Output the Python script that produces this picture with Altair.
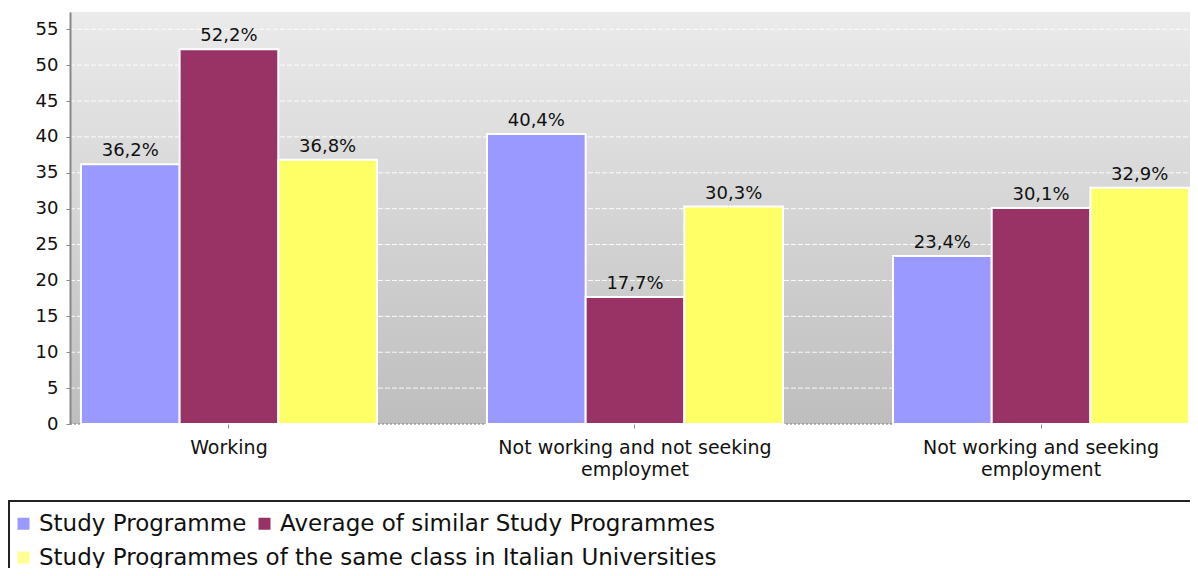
import altair as alt
import pandas as pd

categories = ["Working", "Not working and not seeking\nemploymet", "Not working and seeking\nemployment"]
series = ["Study Programme", "Average of similar Study Programmes",
          "Study Programmes of the same class in Italian Universities"]
study_programme = [36.2, 40.4, 23.4]
average_similar = [52.2, 17.7, 30.1]
same_class_italy = [36.8, 30.3, 32.9]
colors = ["#9999ff", "#993366", "#ffff66"]
y_ticks = [0, 5, 10, 15, 20, 25, 30, 35, 40, 45, 50, 55]

rows = []
for s, vals in zip(series, [study_programme, average_similar, same_class_italy]):
    for c, v in zip(categories, vals):
        rows.append({"category": c, "series": s, "value": v})
df = pd.DataFrame(rows)
grid_df = pd.DataFrame({"tick": y_ticks})

VW = 1120      # visible plot width (page ends here, minus body margin)
RW = 1128      # width of the x range as in the reference (runs off the page edge)
H = 412
FONT = "DejaVu Sans"
YMAX = 57.4

yscale = alt.Scale(domain=[0, YMAX], nice=False, zero=True)
yaxis = alt.Axis(title=None, values=y_ticks, grid=False, labelFont=FONT, labelFontSize=18,
                 labelColor="#111111", labelPadding=8, tickColor="#888888", tickSize=4,
                 domainColor="#888888", domainWidth=2, zindex=1)

bg = alt.Chart(alt.Data(values=[{}])).mark_rect(
    color=alt.Gradient(
        gradient="linear", x1=0, y1=0, x2=0, y2=1,
        stops=[alt.GradientStop(color="#ebebeb", offset=0),
               alt.GradientStop(color="#bebebe", offset=1)])
).encode(x=alt.value(0), x2=alt.value(RW), y=alt.value(0), y2=alt.value(H))

grid = alt.Chart(grid_df).transform_filter("datum.tick > 0").mark_rule(
    color="white", strokeWidth=1, strokeDash=[5, 2], opacity=0.9
).encode(y=alt.Y("tick:Q", scale=yscale, axis=yaxis), x=alt.value(0), x2=alt.value(RW))

baseline = alt.Chart(grid_df).transform_filter("datum.tick == 0").mark_rule(
    color="#777777", strokeWidth=1, strokeDash=[2, 2]
).encode(y=alt.Y("tick:Q", scale=yscale, axis=yaxis), x=alt.value(0), x2=alt.value(RW))

xaxis = alt.Axis(title=None, labelExpr="split(datum.label, '\\n')", labelLimit=600,
                 labelAngle=0, labelFont=FONT, labelFontSize=19, labelColor="#111111",
                 labelLineHeight=22, labelPadding=10, tickColor="#888888", tickSize=4,
                 domain=False, zindex=1)
xscale = alt.Scale(paddingInner=0.271, paddingOuter=0.0245, align=0.55, range=[0, RW])
xoff = alt.XOffset("series:N", sort=series, scale=alt.Scale(paddingInner=0, paddingOuter=0))

legend_common = dict(orient="none", direction="horizontal", title=None, symbolType="square",
                     symbolSize=144, symbolStrokeWidth=0, labelFont=FONT, labelFontSize=23,
                     labelColor="#111111", labelOffset=4, columnPadding=6, padding=0,
                     labelLimit=1000)

bars = alt.Chart(df).mark_bar(stroke="white", strokeWidth=2).encode(
    x=alt.X("category:N", sort=categories, scale=xscale, axis=xaxis),
    xOffset=xoff,
    y=alt.Y("value:Q", scale=yscale, axis=yaxis),
    color=alt.Color("series:N", sort=series, scale=alt.Scale(domain=series, range=colors),
                    legend=alt.Legend(values=series[:2], legendX=-58, legendY=500, **legend_common)),
)

labels = alt.Chart(df).transform_calculate(
    label="replace(format(datum.value, '.1f'), '.', ',') + '%'"
).mark_text(dy=-8, baseline="alphabetic", font=FONT, fontSize=18, color="#111111").encode(
    x=alt.X("category:N", sort=categories, scale=xscale, axis=xaxis), xOffset=xoff,
    y=alt.Y("value:Q", scale=yscale, axis=yaxis), text="label:N")

# second legend row (third series), drawn by the library's legend from its own scale
legend2 = alt.Chart(df).transform_filter("false").transform_calculate(
    series_row2="datum.series"
).mark_square().encode(
    fill=alt.Fill("series_row2:N", scale=alt.Scale(domain=series[2:], range=colors[2:]),
                  legend=alt.Legend(legendX=-58, legendY=534, **legend_common)))

box_top = alt.Chart(alt.Data(values=[{}])).mark_rule(color="#222222", strokeWidth=2).encode(
    x=alt.value(-62), x2=alt.value(RW), y=alt.value(489))
box_left = alt.Chart(alt.Data(values=[{}])).mark_rule(color="#222222", strokeWidth=2).encode(
    x=alt.value(-61), y=alt.value(489), y2=alt.value(570))

chart = alt.layer(bg, grid, baseline, bars, labels, legend2, box_top, box_left).properties(
    width=VW, height=H,
    autosize=alt.AutoSizeParams(type="none"),
    padding={"left": 62, "top": 4, "right": 0, "bottom": 144}
).resolve_legend(color="independent", fill="independent").configure_view(stroke=None)

chart.save("out.html", embed_options={"renderer": "svg", "actions": False})
